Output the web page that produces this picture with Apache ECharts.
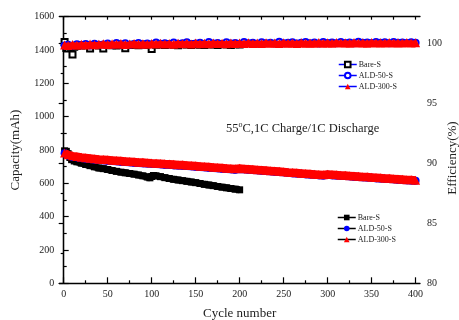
<!DOCTYPE html>
<html><head><meta charset="utf-8">
<script src="https://cdn.jsdelivr.net/npm/echarts@6/dist/echarts.min.js"></script>
<style>html,body{margin:0;padding:0;background:#fff}#c{width:459px;height:320px}</style>
</head><body><div id="c"></div>
<script>
// ---- data ----
const xTicks = [0, 50, 100, 150, 200, 250, 300, 350, 400];
const xMinorTop = [0,25,50,75,100,125,150,175,200,225,250,275,300,325,350,375,400];
const xMinor = [25, 75, 125, 175, 225, 275, 325, 375];
const effTicks = [80, 85, 90, 95, 100];
const effMinor = [82.5, 87.5, 92.5, 97.5];

const cyclesALD = [1,5,10,15,20,25,30,35,40,45,50,55,60,65,70,75,80,85,90,95,
  100,105,110,115,120,125,130,135,140,145,150,155,160,165,170,175,180,185,190,195,
  200,205,210,215,220,225,230,235,240,245,250,255,260,265,270,275,280,285,290,295,
  300,305,310,315,320,325,330,335,340,345,350,355,360,365,370,375,380,385,390,395,400];

const capALD300 = [782,772,765,761,757,754,751,748,745,743,
  741,739,737,735,733,731,729,727,726,724,
  722,721,719,717,716,714,712,711,709,707,
  705,703,701,699,697,695,693,691,689,687,
  690,688,686,684,682,680,678,676,674,672,
  670,667,665,663,661,659,657,655,653,651,
  655,653,651,649,648,646,644,642,640,639,
  637,635,633,631,630,628,626,624,622,621,619];

const capALD50 = [780,767,760,756,752,749,746,743,740,738,
  736,734,732,730,728,726,724,722,721,719,
  717,716,714,712,711,709,707,706,704,702,
  700,698,696,694,692,690,688,686,684,682,
  686,684,682,680,678,676,674,672,670,668,
  666,663,661,659,657,655,653,651,649,647,
  651,649,647,645,644,642,640,638,636,635,
  633,631,629,627,626,624,622,620,618,617,616];

const cyclesBare = [1,3,5,7,9,12,15,20,25,30,35,40,45,50,55,60,65,70,75,80,85,90,95,98,
  100,102,105,110,115,120,125,130,135,140,145,150,155,160,165,170,175,180,185,190,195,200];
const capBare = [795,792,778,755,742,734,729,721,713,706,699,692,688,683,677,672,667,663,659,655,650,645,638,633,
  641,647,645,640,634,629,624,620,616,612,608,604,599,594,590,586,581,577,573,569,565,561];

const effALD300 = [99.85,99.80,99.88,99.82,99.90,99.84,99.92,99.86,99.90,99.94,
  99.88,99.95,99.90,99.96,99.89,99.93,99.97,99.91,99.95,99.90,
  99.96,99.92,99.98,99.93,99.97,99.91,99.99,99.94,99.98,99.93,
  100.00,99.95,99.99,99.94,100.01,99.96,99.99,99.95,100.02,99.96,
  100.00,99.96,100.03,99.97,100.01,99.96,100.03,99.98,100.01,99.97,
  100.04,99.98,100.02,99.97,100.04,99.99,100.02,99.98,100.05,99.99,
  100.03,99.98,100.05,100.00,100.03,99.99,100.06,100.00,100.03,99.99,
  100.05,100.01,100.04,100.00,100.06,100.01,100.04,100.00,100.05,100.01,100.03];

const effALD50 = [99.80,99.86,99.78,99.90,99.84,99.93,99.80,99.95,99.86,99.88,
  99.96,99.85,100.00,99.88,99.98,99.86,99.92,100.02,99.88,99.97,
  99.90,100.05,99.94,99.99,99.90,100.06,99.95,99.98,100.08,99.92,
  99.97,100.04,99.93,100.09,99.96,100.01,99.93,100.07,99.97,100.02,
  99.94,100.10,99.98,100.03,99.95,100.08,99.99,100.04,99.96,100.11,
  99.99,100.03,100.08,99.97,100.04,100.10,99.99,100.05,99.97,100.09,
  100.01,100.06,99.98,100.10,100.02,100.06,99.99,100.11,100.03,100.05,
  100.00,100.10,100.03,100.07,99.99,100.09,100.03,100.06,100.00,100.08,100.04];

const cyclesBareEff = [1,3,5,8,10,12,15,20,25,30,35,40,45,50,55,60,65,70,75,80,85,90,95,
  100,105,110,115,120,125,130,135,140,145,150,155,160,165,170,175,180,185,190,195,200];
const effBare = [100.10,99.60,99.55,99.70,99.05,99.70,99.78,99.80,99.82,99.55,99.84,99.80,99.55,99.85,99.82,99.80,99.86,99.58,99.84,99.86,99.82,99.88,99.85,
  99.50,99.86,99.88,99.84,99.90,99.86,99.82,99.90,99.88,99.84,99.90,99.86,99.84,99.90,99.88,99.85,99.92,99.88,99.85,99.90,99.88];

// ---- build ----
const zip = (xs, ys) => xs.map((x, i) => [x, ys[i]]);
const FONT = '"Liberation Serif", "Times New Roman", serif';
const black = '#000', blue = '#0000ff', red = '#ff0000';
const plain = v => String(v);

const chart = echarts.init(document.getElementById('c'), null, {renderer: 'canvas'});
const xBase = {type: 'value', min: -5, max: 405, gridIndex: 0, splitLine: {show: false}};

chart.setOption({
  animation: false,
  backgroundColor: '#fff',
  grid: {left: 59.3, right: 39, top: 16.7, bottom: 36.7, containLabel: false, outerBoundsMode: 'none'},
  xAxis: [
    Object.assign({}, xBase, {
      position: 'bottom',
      axisLine: {show: true, lineStyle: {color: black, width: 1.3}},
      axisTick: {show: true, inside: true, length: 6, customValues: xTicks, lineStyle: {color: black, width: 1.2}},
      axisLabel: {customValues: xTicks, formatter: plain, fontSize: 10, fontFamily: FONT, color: '#222', margin: 6},
      name: 'Cycle number', nameLocation: 'middle', nameGap: 24, nameMoveOverlap: false,
      nameTextStyle: {fontSize: 13, fontFamily: FONT, color: '#222'}
    }),
    Object.assign({}, xBase, {
      position: 'bottom',
      axisLine: {show: false},
      axisTick: {show: true, inside: true, length: 3, customValues: xMinor, lineStyle: {color: black, width: 1.2}},
      axisLabel: {show: false}
    }),
    Object.assign({}, xBase, {
      position: 'top',
      axisLine: {show: true, lineStyle: {color: black, width: 1.3}},
      axisTick: {show: true, inside: true, length: 3, customValues: xMinorTop, lineStyle: {color: black, width: 1.2}},
      axisLabel: {show: false}
    })
  ],
  yAxis: [
    {
      type: 'value', min: 0, max: 1600, interval: 200, position: 'left',
      splitLine: {show: false},
      axisLine: {show: true, lineStyle: {color: black, width: 1.3}},
      axisTick: {show: true, inside: true, length: 5, lineStyle: {color: black, width: 1.2}},
      minorTick: {show: true, splitNumber: 2, length: 3, lineStyle: {color: black, width: 1.2}},
      axisLabel: {formatter: plain, fontSize: 10, fontFamily: FONT, color: '#222', margin: 5},
      name: 'Capacity(mAh)', nameLocation: 'middle', nameGap: 37, nameRotate: 90, nameMoveOverlap: false,
      nameTextStyle: {fontSize: 13, fontFamily: FONT, color: '#222'}
    },
    {
      type: 'value', min: 80, max: 102.2, position: 'right',
      splitLine: {show: false},
      axisLine: {show: true, lineStyle: {color: black, width: 1.3}},
      axisTick: {show: true, inside: true, length: 5, customValues: effTicks, lineStyle: {color: black, width: 1.2}},
      axisLabel: {customValues: effTicks, formatter: plain, fontSize: 10, fontFamily: FONT, color: '#222', margin: 7},
      name: 'Efficiency(%)', nameLocation: 'middle', nameGap: 26, nameRotate: 90, nameMoveOverlap: false,
      nameTextStyle: {fontSize: 13, fontFamily: FONT, color: '#222', padding: [0, 16, 0, 0]}
    },
    {
      type: 'value', min: 80, max: 102.2, position: 'right',
      splitLine: {show: false},
      axisLine: {show: false},
      axisTick: {show: true, inside: true, length: 3, customValues: effMinor, lineStyle: {color: black, width: 1.2}},
      axisLabel: {show: false}
    }
  ],
  legend: [
    {
      orient: 'vertical', left: 333, top: 55.5, itemWidth: 18, itemHeight: 7, itemGap: 3,
      data: ['Bare-S|e', 'ALD-50-S|e', 'ALD-300-S|e'],
      formatter: n => n.split('|')[0],
      textStyle: {fontSize: 8, fontFamily: FONT, color: '#222', padding: [0, 0, 0, -3]},
      lineStyle: {color: blue, width: 1.5, opacity: 1},
      selectedMode: false
    },
    {
      orient: 'vertical', left: 332, top: 208.5, itemWidth: 18, itemHeight: 7, itemGap: 3,
      data: ['Bare-S|c', 'ALD-50-S|c', 'ALD-300-S|c'],
      formatter: n => n.split('|')[0],
      textStyle: {fontSize: 8, fontFamily: FONT, color: '#222', padding: [0, 0, 0, -3]},
      lineStyle: {color: black, width: 1.5, opacity: 1},
      selectedMode: false
    }
  ],
  graphic: [{
    type: 'text', left: 226, top: 121,
    style: {
      text: '55{sup|o}C,1C Charge/1C Discharge',
      font: '12.5px ' + FONT, fill: '#222',
      rich: {sup: {fontSize: 8, fontFamily: FONT, fill: '#222', verticalAlign: 'top', padding: [0, 0, 7, 0]}}
    }
  }],
  series: [
    {name: 'Bare-S|c', type: 'line', xAxisIndex: 0, yAxisIndex: 0, data: zip(cyclesBare, capBare),
      symbol: 'rect', symbolSize: 7, showAllSymbol: true,
      itemStyle: {color: black}, lineStyle: {color: black, width: 7}, z: 2},
    {name: 'ALD-50-S|c', type: 'line', xAxisIndex: 0, yAxisIndex: 0, data: zip(cyclesALD, capALD50),
      symbol: 'circle', symbolSize: 8, showAllSymbol: true,
      itemStyle: {color: blue}, lineStyle: {color: blue, width: 8}, z: 3},
    {name: 'ALD-300-S|c', type: 'line', xAxisIndex: 0, yAxisIndex: 0, data: zip(cyclesALD, capALD300),
      symbol: 'triangle', symbolSize: 9, showAllSymbol: true,
      itemStyle: {color: red}, lineStyle: {color: red, width: 8}, z: 4},
    {name: 'Bare-S|e', type: 'line', xAxisIndex: 0, yAxisIndex: 1, data: zip(cyclesBareEff, effBare),
      symbol: 'emptyRect', symbolSize: 6, showAllSymbol: true,
      itemStyle: {color: black, borderWidth: 1}, lineStyle: {color: blue, width: 1}, z: 2},
    {name: 'ALD-50-S|e', type: 'line', xAxisIndex: 0, yAxisIndex: 1, data: zip(cyclesALD, effALD50),
      symbol: 'emptyCircle', symbolSize: 6, showAllSymbol: true,
      itemStyle: {color: blue, borderWidth: 1}, lineStyle: {color: blue, width: 1}, z: 3},
    {name: 'ALD-300-S|e', type: 'line', xAxisIndex: 0, yAxisIndex: 1, data: zip(cyclesALD, effALD300),
      symbol: 'triangle', symbolSize: 9, showAllSymbol: true,
      itemStyle: {color: red}, lineStyle: {color: red, width: 5}, z: 4}
  ]
});
</script>
</body></html>
